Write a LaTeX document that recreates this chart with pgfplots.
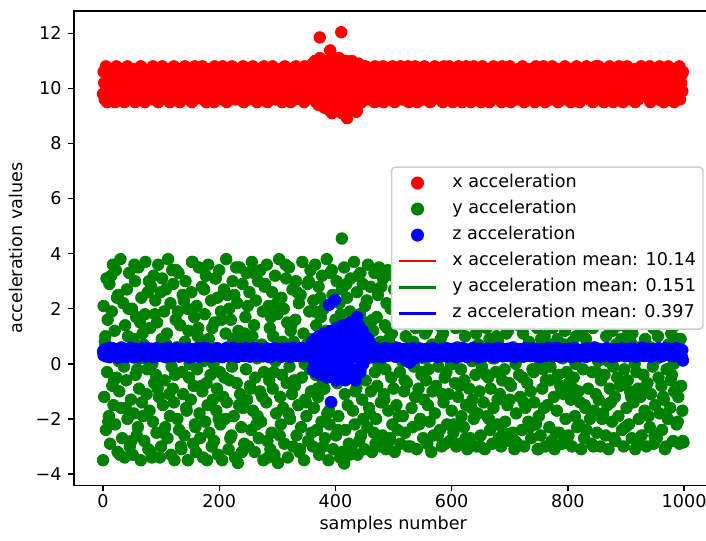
\documentclass[border=0pt]{standalone}
\usepackage{fontspec}
\setmainfont{DejaVu Sans}
\usepackage{pgfplots}
\pgfplotsset{compat=1.18}
\usepackage{pgfplotstable}
\definecolor{mplgreen}{RGB}{0,128,0}
\definecolor{legframe}{RGB}{204,204,204}
\pgfplotstableread{
x r g b
0 9.8 -3.5 0.45
1 10.6 2.1 0.31
2 10.2 -1.2 0.52
3 9.6 0.8 0.38
5 10.8 -2.4 0.27
6 10.1 3.1 0.49
7 9.5 -0.3 0.34
8 10.4 1.6 0.56
10 10.0 -1.9 0.41
11 9.7 2.9 0.24
12 10.7 -2.9 0.50
13 10.3 0.3 0.36
15 9.9 1.9 0.58
16 10.5 -0.8 0.29
17 9.6 3.6 0.44
18 10.2 -1.5 0.33
20 10.4 1.2 0.37
21 9.5 -2.2 0.53
22 10.1 3.4 0.28
23 10.8 -0.5 0.47
25 9.8 -3.2 0.40
26 10.3 2.5 0.22
27 10.6 0.1 0.55
28 9.7 -1.0 0.35
30 9.9 3.8 0.48
31 10.7 -1.6 0.30
32 10.2 0.6 0.42
33 9.6 -2.7 0.57
35 10.5 2.2 0.26
36 10.0 -0.1 0.39
37 9.5 -3.4 0.51
38 10.4 1.4 0.33
40 10.3 -0.6 0.44
41 9.8 2.7 0.25
42 10.8 -2.0 0.54
43 10.1 1.0 0.36
45 9.7 3.3 0.47
46 10.6 -3.0 0.31
47 10.2 0.4 0.58
48 9.9 -1.3 0.40
50 10.5 2.0 0.29
51 9.6 -3.3 0.50
52 10.0 0.9 0.38
53 10.7 -1.8 0.23
55 9.5 3.0 0.45
56 10.3 -0.4 0.55
57 9.8 1.7 0.34
58 10.6 -2.6 0.42
60 9.7 -2.3 0.52
61 10.4 3.5 0.37
62 10.1 -0.9 0.27
63 9.9 0.2 0.49
65 10.8 -3.5 0.32
66 9.6 2.4 0.41
67 10.2 -1.4 0.56
68 10.5 1.1 0.30
70 10.2 0.7 0.35
71 10.7 -2.8 0.46
72 9.5 1.8 0.53
73 10.0 3.7 0.26
75 10.4 -1.1 0.40
76 9.8 -0.2 0.57
77 10.6 2.6 0.31
78 9.9 -3.1 0.44
80 10.6 -1.7 0.39
81 9.9 1.3 0.28
82 10.3 -3.2 0.48
83 9.7 2.8 0.55
85 10.1 0.0 0.34
86 10.8 -2.1 0.43
87 9.6 3.2 0.24
88 10.4 -0.7 0.51
90 9.8 2.3 0.47
91 10.5 -0.4 0.33
92 10.0 -2.5 0.57
93 10.7 1.5 0.38
95 9.5 3.6 0.29
96 10.2 -1.2 0.50
97 10.4 0.5 0.42
98 9.7 -3.4 0.36
100 10.1 -3.0 0.54
101 9.6 0.9 0.41
102 10.8 3.1 0.30
103 10.3 -1.5 0.46
105 9.9 1.9 0.37
106 10.6 -0.6 0.25
107 9.8 -2.3 0.52
108 10.0 2.7 0.44
110 10.4 1.1 0.32
111 9.7 -2.7 0.49
112 10.2 3.8 0.40
113 10.7 0.2 0.58
115 9.5 -1.9 0.27
116 10.0 2.2 0.45
117 10.5 -3.3 0.35
118 9.9 -0.1 0.53
120 9.6 -0.9 0.43
121 10.3 2.9 0.36
122 10.8 -1.4 0.51
123 9.8 -3.5 0.28
125 10.1 1.6 0.47
126 10.6 3.4 0.39
127 9.7 0.6 0.56
128 10.4 -2.0 0.31
130 10.7 3.3 0.50
131 10.0 -2.4 0.26
132 9.5 0.3 0.44
133 10.2 1.4 0.37
135 10.5 -3.1 0.55
136 9.9 -0.3 0.33
137 10.3 2.5 0.42
138 9.6 -1.1 0.48
140 10.1 -2.6 0.38
141 10.8 0.8 0.53
142 9.8 3.0 0.29
143 10.4 -1.6 0.46
145 9.7 2.0 0.34
146 10.6 -3.5 0.57
147 10.0 1.2 0.41
148 10.3 -0.5 0.23
150 9.9 0.4 0.45
151 10.2 -1.3 0.31
152 10.7 2.6 0.50
153 9.5 3.7 0.39
155 10.4 -2.9 0.27
156 10.1 -0.8 0.54
157 9.6 1.7 0.36
158 10.8 -2.2 0.48
160 10.5 -3.2 0.33
161 9.7 2.1 0.47
162 10.0 -0.2 0.56
163 10.6 1.0 0.40
165 10.3 3.5 0.25
166 9.8 -1.8 0.43
167 10.7 -2.7 0.52
168 10.1 0.7 0.37
170 10.2 2.8 0.49
171 10.8 -1.0 0.35
172 9.6 -3.4 0.42
173 10.0 0.1 0.58
175 9.9 1.8 0.30
176 10.5 -2.1 0.46
177 10.3 3.2 0.38
178 9.5 -0.7 0.28
180 9.8 -1.5 0.41
181 10.4 3.6 0.55
182 10.1 0.9 0.32
183 10.7 -2.5 0.44
185 9.6 -0.4 0.51
186 10.2 2.3 0.26
187 9.9 -3.0 0.48
188 10.6 1.3 0.36
190 10.3 0.0 0.37
191 9.5 -2.8 0.43
192 10.8 1.5 0.28
193 10.0 3.1 0.53
195 10.5 -1.7 0.40
196 9.7 -0.9 0.57
197 10.4 2.4 0.34
198 10.2 -3.3 0.46
200 10.6 3.4 0.52
201 10.1 -0.3 0.30
202 9.9 -2.2 0.45
203 10.3 1.9 0.39
205 9.6 -3.5 0.24
206 10.8 0.5 0.48
207 10.0 -1.2 0.35
208 9.8 2.7 0.42
210 10.0 -2.0 0.44
211 10.7 1.1 0.56
212 10.4 3.8 0.38
213 9.5 -1.4 0.31
215 10.2 0.6 0.50
216 9.9 -3.1 0.27
217 10.6 2.0 0.41
218 10.1 -0.6 0.54
220 9.7 1.6 0.33
221 10.3 -2.6 0.47
222 10.8 -0.1 0.29
223 10.0 3.0 0.58
225 9.8 -1.9 0.40
226 10.5 2.5 0.36
227 10.2 -3.4 0.51
228 9.6 0.3 0.43
230 10.4 -0.7 0.49
231 9.9 2.2 0.25
232 10.1 -3.6 0.42
233 10.6 1.2 0.37
235 10.7 3.5 0.55
236 9.6 -1.1 0.32
237 10.3 0.8 0.46
238 10.0 -2.3 0.39
240 10.2 2.9 0.36
241 10.8 -1.6 0.53
242 9.5 0.4 0.28
243 9.9 -2.9 0.45
245 10.4 1.7 0.41
246 10.1 -0.2 0.57
247 9.8 3.3 0.30
248 10.6 -1.3 0.48
250 9.6 -3.0 0.44
251 10.5 0.9 0.34
252 10.2 2.6 0.51
253 10.7 -0.8 0.26
255 10.0 -2.4 0.39
256 9.7 3.7 0.47
257 10.3 1.0 0.55
258 10.8 -1.7 0.32
260 10.1 1.4 0.40
261 9.8 -3.2 0.58
262 10.6 -0.5 0.35
263 10.3 2.3 0.43
265 9.5 0.2 0.29
266 10.4 -1.9 0.52
267 10.0 3.0 0.37
268 9.9 -2.7 0.46
270 10.7 -1.0 0.31
271 10.2 3.4 0.48
272 9.7 -2.1 0.42
273 10.0 0.7 0.54
275 10.5 1.9 0.27
276 9.6 -3.5 0.38
277 10.8 -0.3 0.50
278 10.3 2.8 0.35
280 9.9 0.5 0.47
281 10.4 -1.4 0.33
282 10.1 3.6 0.56
283 9.5 -2.8 0.40
285 10.6 2.1 0.45
286 10.2 -0.6 0.24
287 9.8 1.3 0.41
288 10.7 -3.1 0.52
290 10.3 -2.5 0.36
291 10.0 2.6 0.50
292 10.8 -0.9 0.29
293 9.7 1.0 0.46
295 10.1 -3.3 0.57
296 10.5 3.2 0.34
297 9.6 0.1 0.43
298 10.4 -1.8 0.39
300 9.8 1.8 0.53
301 10.6 -3.6 0.37
302 10.3 0.6 0.44
303 10.0 3.8 0.30
305 9.9 -1.2 0.49
306 10.7 -2.2 0.41
307 10.2 2.4 0.26
308 9.5 -0.4 0.55
310 10.5 -1.6 0.42
311 9.7 2.0 0.28
312 10.1 -2.9 0.51
313 10.8 0.3 0.38
315 10.4 3.1 0.35
316 9.6 -0.7 0.56
317 10.0 1.5 0.45
318 10.3 -3.4 0.32
320 10.2 3.5 0.47
321 10.7 -0.1 0.40
322 9.9 -2.0 0.25
323 9.5 1.2 0.54
325 10.6 -1.1 0.33
326 10.1 2.7 0.48
327 10.4 -3.0 0.39
328 9.8 0.8 0.58
330 9.6 -0.8 0.36
331 10.3 1.6 0.52
332 10.8 3.0 0.43
333 10.0 -2.6 0.29
335 9.7 0.4 0.46
336 10.5 -1.5 0.37
337 10.2 2.2 0.55
338 10.6 -3.2 0.31
340 10.4 2.5 0.49
341 9.9 -2.3 0.34
342 10.1 -0.5 0.57
343 10.7 3.7 0.41
345 10.3 1.1 0.27
346 9.5 -3.5 0.44
347 10.8 0.0 0.38
348 10.0 -1.3 0.53
350 10.1 -1.9 0.40
351 10.6 0.7 0.46
352 9.7 2.9 0.33
353 10.3 -2.8 0.55
355 10.0 1.9 0.28
356 10.8 -0.2 0.50
357 9.8 3.4 0.42
358 10.5 -1.0 0.37
360 9.9 0.9 0.8
361 10.9 -3.0 -0.2
362 10.2 2.3 0.5
363 9.6 -1.6 0.1
365 11.0 3.6 0.9
366 10.4 -0.4 -0.3
367 9.5 1.4 0.6
368 10.7 -2.4 0.3
370 10.3 -1.2 0.4
371 9.4 2.8 1.0
372 10.8 -3.3 -0.1
373 11.1 0.2 0.7
375 10.0 1.7 -0.4
376 9.7 -2.1 0.2
377 10.5 3.2 0.9
378 11.0 -0.6 0.0
380 10.6 2.0 1.1
381 9.3 -0.9 -0.3
382 10.1 -2.7 0.6
383 10.9 1.0 0.2
385 9.8 3.8 0.8
386 11.0 -1.8 -0.5
387 10.3 0.5 0.4
388 9.6 -3.5 1.0
390 9.2 -2.2 0.1
391 10.7 3.3 0.9
392 10.0 0.0 -0.4
393 11.0 -1.4 1.2
395 9.5 2.5 0.5
396 10.4 -3.1 -0.1
397 9.9 1.2 0.7
398 10.8 -0.3 0.3
400 10.2 1.6 0.6
401 9.4 -2.6 -0.6
402 10.9 3.0 1.3
403 9.7 -0.7 0.2
405 10.5 -1.9 0.9
406 11.1 0.8 -0.2
407 9.3 2.2 0.4
408 10.1 -3.4 1.1
410 10.6 -0.2 -0.4
411 9.1 2.7 1.0
412 10.0 -3.2 0.3
413 10.8 1.3 1.4
415 9.6 3.5 0.0
416 10.3 -1.1 0.7
417 11.0 -2.4 -0.6
418 9.4 0.4 0.5
420 9.8 2.4 1.2
421 10.9 -1.5 -0.3
422 9.3 0.9 0.8
423 10.4 -2.9 0.1
425 10.1 1.9 1.5
426 9.5 3.1 -0.5
427 10.7 -0.5 0.4
428 11.0 -3.0 0.9
430 10.2 -1.7 0.6
431 9.4 0.3 1.3
432 10.8 3.7 -0.2
433 9.7 -2.2 1.0
435 10.5 1.1 -0.6
436 10.0 -0.9 1.6
437 9.2 2.6 0.3
438 10.6 -3.3 0.8
440 10.9 0.6 1.4
441 9.6 -2.8 0.2
442 10.3 1.8 0.9
443 10.0 3.3 -0.3
445 9.5 -0.1 1.1
446 10.7 -1.3 0.5
447 10.1 2.9 1.2
448 9.8 -2.0 0.0
450 10.4 -3.1 0.7
451 9.7 2.1 1.0
452 10.8 -0.6 0.2
453 10.2 1.5 0.8
455 9.6 -2.3 0.4
456 10.6 3.6 0.6
457 10.0 0.2 0.9
458 10.3 -1.6 0.3
460 9.9 2.8 0.55
461 10.5 -1.0 0.70
462 10.1 0.5 0.30
463 10.7 -3.2 0.60
465 9.8 1.2 0.45
466 10.4 -2.5 0.25
467 9.5 3.3 0.50
468 10.8 -0.3 0.40
470 10.2 -2.0 0.42
471 9.6 1.7 0.31
472 10.7 -0.8 0.56
473 10.0 2.5 0.38
475 10.4 3.5 0.49
476 9.9 -3.0 0.27
477 10.6 0.8 0.45
478 10.1 -1.4 0.35
480 9.7 0.3 0.50
481 10.3 -2.6 0.36
482 10.8 3.1 0.24
483 9.5 -1.1 0.44
485 10.1 1.4 0.57
486 10.6 -0.2 0.33
487 10.0 -3.1 0.40
488 10.4 2.2 0.47
490 10.5 3.4 0.29
491 9.8 -1.7 0.52
492 10.2 0.9 0.41
493 10.7 -2.8 0.35
495 9.6 2.0 0.46
496 10.3 -0.5 0.55
497 9.9 1.1 0.31
498 10.8 -2.2 0.43
500 10.0 -0.9 0.48
501 10.6 2.7 0.37
502 9.5 -3.2 0.53
503 10.2 0.6 0.26
505 10.4 -1.5 0.42
506 9.7 3.0 0.34
507 10.7 -2.4 0.58
508 10.1 1.6 0.39
510 10.3 1.9 0.45
511 9.9 -0.3 0.30
512 10.8 -2.9 0.40
513 10.0 3.3 0.51
515 9.6 0.1 0.25
516 10.5 -1.9 0.47
517 10.2 2.4 0.36
518 9.8 -1.0 0.54
520 10.6 -2.5 0.38
521 10.1 1.0 0.55
522 9.7 2.9 0.12
523 10.4 -0.7 0.43
525 10.8 -3.0 0.32
526 9.5 1.8 0.49
527 10.0 0.4 0.05
528 10.3 3.5 0.41
530 9.9 0.8 0.10
531 10.7 -1.6 0.46
532 10.2 2.2 0.34
533 9.6 -2.3 0.57
535 10.5 -0.1 0.40
536 10.0 3.1 0.28
537 10.8 -1.2 0.52
538 10.4 1.3 0.37
540 10.2 -3.1 0.44
541 9.5 2.6 0.31
542 10.6 0.5 0.49
543 10.1 -0.9 0.23
545 9.8 1.5 0.56
546 10.7 -2.0 0.39
547 10.3 3.2 0.35
548 9.7 -0.4 0.47
550 10.4 2.0 0.33
551 10.0 -2.7 0.50
552 9.6 -1.3 0.42
553 10.8 0.2 0.37
555 10.2 3.4 0.28
556 9.9 -0.6 0.54
557 10.5 1.2 0.45
558 10.1 -2.9 0.40
560 9.8 -0.2 0.52
561 10.6 1.7 0.36
562 10.3 -2.1 0.27
563 9.5 2.8 0.48
565 10.0 -3.2 0.41
566 10.7 0.7 0.33
567 10.4 -1.0 0.57
568 9.6 2.3 0.44
570 10.1 3.0 0.39
571 10.8 -1.8 0.46
572 9.7 0.3 0.54
573 10.3 -0.8 0.30
575 10.6 1.9 0.43
576 10.0 -2.6 0.25
577 9.9 -0.1 0.49
578 10.5 1.4 0.35
580 10.7 -2.4 0.47
581 9.6 0.9 0.32
582 10.2 2.5 0.41
583 10.0 -3.0 0.55
585 9.5 1.1 0.37
586 10.4 -1.4 0.51
587 10.8 3.3 0.28
588 10.1 -0.5 0.44
590 9.9 1.6 0.36
591 10.3 -0.3 0.57
592 10.6 -2.2 0.43
593 9.7 2.1 0.26
595 10.2 -1.1 0.48
596 10.8 0.4 0.40
597 9.8 -2.8 0.53
598 10.4 3.1 0.31
600 10.0 -1.7 0.42
601 10.5 2.7 0.29
602 9.5 0.0 0.50
603 10.7 -2.5 0.38
605 10.1 3.4 0.34
606 9.6 -0.7 0.56
607 10.3 1.3 0.45
608 10.6 -3.0 0.23
610 10.2 0.6 0.49
611 9.8 -1.2 0.40
612 10.8 2.3 0.35
613 10.4 -2.9 0.53
615 9.7 1.8 0.27
616 10.0 -0.2 0.44
617 10.6 -1.9 0.37
618 9.5 2.9 0.58
620 10.5 3.2 0.31
621 10.1 -2.3 0.47
622 9.6 -0.6 0.55
623 10.3 1.0 0.41
625 10.8 -1.5 0.36
626 9.9 2.0 0.25
627 10.2 -3.1 0.50
628 10.7 0.3 0.43
630 9.7 -0.9 0.45
631 10.4 1.5 0.33
632 10.0 -2.7 0.28
633 9.5 2.6 0.52
635 10.6 0.1 0.39
636 10.2 -1.3 0.57
637 9.8 3.4 0.42
638 10.8 -2.0 0.34
640 10.3 2.2 0.51
641 10.7 -0.4 0.38
642 9.9 1.1 0.44
643 10.1 -3.0 0.30
645 9.6 -1.8 0.48
646 10.5 0.7 0.24
647 10.0 2.8 0.36
648 10.4 -1.0 0.55
650 10.0 -2.6 0.40
651 9.5 3.0 0.53
652 10.6 -0.1 0.32
653 10.8 1.6 0.46
655 10.2 -1.4 0.27
656 9.7 2.4 0.43
657 10.4 -3.1 0.50
658 10.1 0.5 0.37
660 10.6 1.3 0.34
661 10.2 -1.9 0.47
662 9.8 2.9 0.56
663 10.4 -0.5 0.39
665 9.5 0.9 0.42
666 10.7 -2.4 0.29
667 10.0 -0.9 0.45
668 9.9 3.3 0.52
670 9.6 -2.9 0.49
671 10.3 0.2 0.35
672 10.8 -1.6 0.41
673 10.0 2.1 0.25
675 10.5 3.5 0.54
676 9.8 -0.3 0.38
677 10.2 1.0 0.31
678 10.7 -2.2 0.46
680 10.1 0.8 0.43
681 10.6 -2.7 0.57
682 9.7 1.9 0.30
683 10.4 -1.1 0.48
685 10.0 -3.0 0.36
686 9.5 2.5 0.51
687 10.8 -0.6 0.40
688 10.3 1.5 0.27
690 10.4 2.7 0.37
691 9.9 -0.2 0.44
692 10.2 -2.1 0.53
693 10.7 0.4 0.32
695 9.6 3.1 0.46
696 10.1 -1.5 0.28
697 10.5 1.2 0.55
698 9.8 -2.8 0.41
700 10.8 -1.3 0.50
701 10.0 1.7 0.33
702 9.5 -0.8 0.39
703 10.3 2.3 0.57
705 10.6 -2.5 0.42
706 9.7 0.6 0.36
707 10.1 3.4 0.47
708 10.4 -3.1 0.24
710 9.9 0.0 0.45
711 10.5 -1.8 0.52
712 10.2 2.8 0.29
713 9.6 -2.9 0.40
715 10.7 1.4 0.35
716 10.0 -0.4 0.54
717 9.8 2.0 0.38
718 10.6 -1.2 0.48
720 10.3 3.2 0.31
721 9.7 -2.4 0.46
722 10.8 -0.5 0.43
723 10.1 1.1 0.26
725 9.5 -3.0 0.50
726 10.4 2.4 0.41
727 10.2 -1.6 0.57
728 9.9 0.3 0.36
730 10.6 -0.7 0.53
731 10.0 1.9 0.39
732 9.6 -2.1 0.34
733 10.7 0.8 0.47
735 10.3 3.0 0.28
736 9.8 -1.0 0.44
737 10.5 -2.7 0.37
738 10.1 1.6 0.55
740 9.7 2.5 0.42
741 10.4 -0.3 0.30
742 10.2 -1.4 0.56
743 9.5 3.3 0.38
745 10.8 -2.2 0.45
746 10.0 0.5 0.33
747 10.6 1.3 0.49
748 9.9 -3.1 0.27
750 10.2 -1.9 0.36
751 10.7 2.1 0.51
752 9.8 0.1 0.41
753 10.3 -2.6 0.25
755 10.1 1.7 0.54
756 9.6 -0.9 0.43
757 10.4 2.9 0.32
758 10.8 -0.2 0.47
760 10.0 1.0 0.48
761 9.5 -3.0 0.35
762 10.6 -0.6 0.29
763 10.2 2.6 0.52
765 9.9 -1.5 0.39
766 10.7 3.4 0.46
767 9.7 0.7 0.57
768 10.3 -2.3 0.40
770 10.5 -0.1 0.33
771 10.1 1.5 0.44
772 9.6 -2.8 0.50
773 10.8 0.4 0.37
775 10.4 2.2 0.27
776 10.0 -1.2 0.55
777 9.8 -3.1 0.42
778 10.6 3.0 0.31
780 9.8 2.3 0.46
781 10.3 -1.7 0.58
782 10.7 0.9 0.38
783 9.5 -0.4 0.43
785 10.2 -2.5 0.34
786 10.5 1.8 0.26
787 10.1 -0.8 0.49
788 9.7 3.3 0.41
790 10.4 -2.9 0.39
791 10.0 0.2 0.47
792 9.6 2.7 0.32
793 10.6 -1.1 0.53
795 10.8 1.2 0.44
796 9.9 -2.0 0.36
797 10.3 0.6 0.28
798 10.1 -0.3 0.51
800 10.2 1.4 0.55
801 9.7 -2.6 0.30
802 10.5 -0.7 0.42
803 10.0 3.1 0.37
805 9.5 -1.3 0.49
806 10.7 2.0 0.24
807 10.4 -3.0 0.45
808 9.8 0.8 0.40
810 10.6 -0.5 0.34
811 10.1 2.4 0.48
812 9.9 -1.9 0.57
813 10.3 0.0 0.41
815 10.8 1.6 0.29
816 9.6 -2.3 0.52
817 10.0 3.4 0.38
818 10.5 -1.0 0.46
820 9.5 2.9 0.43
821 10.4 -1.4 0.36
822 10.2 0.5 0.50
823 9.8 -3.1 0.27
825 10.6 1.1 0.45
826 10.1 -0.2 0.40
827 10.7 2.2 0.33
828 10.0 -2.7 0.54
830 10.3 -1.6 0.49
831 9.9 0.9 0.25
832 10.8 -2.4 0.39
833 10.5 2.6 0.56
835 9.7 -0.9 0.35
836 10.2 3.2 0.44
837 9.6 0.3 0.51
838 10.4 -2.0 0.31
840 10.0 1.8 0.37
841 10.6 -2.9 0.52
842 10.1 -0.3 0.44
843 9.5 1.3 0.33
845 10.7 -1.7 0.58
846 9.8 0.6 0.41
847 10.3 2.7 0.28
848 10.8 -1.1 0.47
850 10.4 -2.5 0.45
851 9.7 3.3 0.30
852 10.2 0.1 0.55
853 10.8 -1.3 0.40
855 9.9 2.1 0.36
856 10.5 -3.0 0.49
857 10.0 -0.6 0.26
858 9.6 1.5 0.42
860 10.1 0.4 0.52
861 10.7 -1.8 0.38
862 9.5 2.5 0.43
863 10.3 -0.4 0.29
865 10.6 -2.6 0.47
866 10.0 1.0 0.34
867 9.8 3.0 0.57
868 10.4 -1.5 0.40
870 9.9 -3.1 0.35
871 10.2 1.7 0.46
872 10.8 -0.9 0.31
873 9.7 2.3 0.53
875 10.4 0.2 0.41
876 10.1 -2.1 0.25
877 10.6 1.2 0.48
878 9.5 -0.1 0.38
880 10.5 2.8 0.44
881 10.0 -1.2 0.54
882 9.6 -2.8 0.37
883 10.7 0.7 0.42
885 10.3 -0.5 0.28
886 9.8 3.4 0.50
887 10.2 -1.9 0.33
888 10.8 1.4 0.46
890 10.2 -0.8 0.39
891 10.6 2.0 0.31
892 9.9 0.9 0.49
893 10.0 -2.4 0.56
895 9.5 1.6 0.43
896 10.4 -3.0 0.36
897 10.7 -0.2 0.51
898 10.1 2.6 0.27
900 9.7 3.1 0.47
901 10.3 -1.6 0.40
902 10.8 0.3 0.34
903 10.2 -0.6 0.52
905 9.9 -2.2 0.29
906 10.5 1.9 0.45
907 10.0 -1.0 0.38
908 9.6 0.8 0.55
910 10.6 -2.7 0.32
911 10.1 1.1 0.48
912 9.8 2.4 0.56
913 10.4 -1.4 0.41
915 10.7 0.0 0.37
916 9.5 -3.1 0.50
917 10.3 3.3 0.26
918 10.0 -0.3 0.44
920 10.3 1.5 0.43
921 9.6 -0.9 0.35
922 10.5 -2.0 0.47
923 10.0 2.9 0.30
925 9.9 -1.2 0.53
926 10.8 0.5 0.39
927 10.2 -2.6 0.45
928 10.6 2.1 0.58
930 9.8 -0.4 0.50
931 10.4 3.0 0.28
932 10.1 -1.7 0.41
933 10.7 0.9 0.36
935 10.2 -3.0 0.46
936 9.7 1.7 0.55
937 10.0 -0.7 0.33
938 10.5 2.5 0.40
940 10.0 2.2 0.37
941 10.8 -2.3 0.52
942 9.5 0.6 0.44
943 10.3 -1.1 0.25
945 10.6 3.4 0.49
946 10.1 -0.1 0.42
947 9.9 1.3 0.31
948 10.4 -2.9 0.47
950 10.7 -1.5 0.54
951 10.2 0.2 0.39
952 9.7 2.7 0.33
953 10.0 -2.7 0.48
955 10.5 1.0 0.38
956 9.6 -0.5 0.57
957 10.3 2.0 0.43
958 10.8 -1.8 0.29
960 10.1 3.2 0.41
961 9.8 -0.8 0.46
962 10.6 -2.4 0.27
963 10.4 1.6 0.51
965 9.5 -1.3 0.35
966 10.7 0.4 0.44
967 10.2 -3.1 0.56
968 9.9 2.3 0.32
970 10.4 -0.2 0.49
971 10.0 1.8 0.34
972 9.6 -2.0 0.42
973 10.8 0.7 0.38
975 10.3 2.8 0.55
976 9.9 -1.6 0.30
977 10.5 -0.6 0.46
978 10.1 1.1 0.40
980 9.7 2.5 0.36
981 10.6 -2.8 0.52
982 10.2 0.0 0.45
983 9.5 -1.0 0.28
985 10.7 1.4 0.41
986 10.0 3.0 0.57
987 10.4 -2.2 0.33
988 9.8 0.9 0.47
990 10.3 -1.2 0.44
991 10.1 1.9 0.39
992 10.8 -2.9 0.53
993 9.6 0.5 0.31
995 10.2 -0.8 0.48
996 10.5 2.4 0.26
997 9.9 -1.7 0.50
998 10.6 -2.8 0.12
}\acc
\pgfplotstableread{
x g
4 1.0
9 -2.1
14 3.2
19 -0.6
24 2.4
29 -3.3
34 0.5
39 -1.6
44 2.0
49 -2.8
54 3.6
59 -0.2
64 1.5
69 -1.9
74 0.2
79 3.0
84 -3.4
89 1.8
94 -0.9
99 2.6
104 -2.5
109 0.7
114 -1.1
119 3.4
124 -0.4
129 1.9
134 -3.0
139 2.3
144 -1.7
149 0.0
154 3.7
159 -2.3
164 1.3
169 -0.8
174 2.7
179 -3.5
184 0.6
189 -1.3
194 3.1
199 -2.0
204 1.6
209 -0.5
214 2.5
219 -2.7
224 0.9
229 3.5
234 -1.5
239 -3.2
244 1.1
249 2.1
254 -0.9
259 3.3
264 -2.2
269 0.4
274 -1.2
279 2.9
284 -3.4
289 1.7
294 -0.3
299 2.2
304 -2.6
309 0.8
314 3.6
319 -1.8
324 1.4
329 -0.6
334 2.6
339 -3.1
344 0.2
349 -1.4
354 3.0
359 -2.5
364 1.9
369 -0.9
374 2.4
379 -3.0
384 1.2
389 -1.7
394 3.4
399 0.6
404 -2.4
409 1.8
414 -0.5
419 2.9
424 -3.3
429 1.0
434 -1.0
439 3.2
444 -2.6
449 0.4
454 2.3
459 -1.8
464 1.6
469 -2.9
474 0.0
479 2.8
484 -1.3
489 1.3
494 -2.7
499 3.2
504 0.3
509 -1.9
514 2.5
519 -0.6
524 1.6
529 -3.0
534 0.8
539 2.9
544 -2.2
549 -0.3
554 1.1
559 -1.5
564 3.3
569 -2.6
574 0.5
579 2.2
584 -1.1
589 -2.9
594 1.9
599 0.0
604 -2.2
609 3.0
614 -0.8
619 1.4
624 -2.7
629 2.5
634 -1.6
639 0.6
644 3.2
649 -3.0
654 1.8
659 -0.4
664 -2.0
669 2.6
674 0.2
679 -1.3
684 3.0
689 -2.5
694 1.1
699 -0.7
704 2.0
709 -2.8
714 0.5
719 3.1
724 -1.4
729 1.7
734 -2.3
739 -0.2
744 2.6
749 -3.1
754 0.9
759 -1.6
764 2.2
769 -0.6
774 1.3
779 -2.5
784 3.2
789 -1.0
794 0.7
799 -2.8
804 2.4
809 -0.9
814 1.0
819 -2.2
824 3.3
829 -1.5
834 0.4
839 2.0
844 -3.0
849 -0.3
854 1.6
859 -2.0
864 2.9
869 0.1
874 -1.4
879 -2.7
884 1.9
889 -0.6
894 3.0
899 -2.3
904 1.2
909 -1.2
914 2.6
919 -2.9
924 0.6
929 -0.9
934 3.4
939 -1.9
944 1.5
949 -2.6
954 0.2
959 2.3
964 -1.2
969 -3.0
974 1.6
979 -0.4
984 2.7
989 -2.1
994 0.9
999 -2.85
}\accg
\begin{document}
\begin{tikzpicture}
\begin{axis}[
  scale only axis,
  width=362.8pt, height=269.5pt,
  xmin=-49.95, xmax=1048.95,
  ymin=-4.41, ymax=12.81,
  axis line style={line width=0.8pt},
  tick align=outside,
  major tick length=3.5pt,
  every tick/.style={black, line width=0.8pt},
  xtick={0,200,400,600,800,1000},
  xticklabels={0,200,400,600,800,1000},
  ytick={-4,-2,0,2,4,6,8,10,12},
  yticklabels={−4,−2,0,2,4,6,8,10,12},
  ticklabel style={font=\fontsize{10}{12}\selectfont},
  xticklabel style={yshift=2pt},
  xtick pos=bottom, ytick pos=left,
  xlabel={samples number},
  ylabel={acceleration values},
  label style={font=\fontsize{10}{12}\selectfont},
  xlabel style={at={(axis description cs:0.5,-0.0939)}, anchor=base},
  ylabel style={at={(axis description cs:-0.0802,0.5)}, anchor=base},
  legend image code/.code={\draw[mark repeat=2,mark phase=2,#1] plot coordinates {(0pt,0pt)(10pt,0pt)(20pt,0pt)};},
  legend cell align=left,
  legend style={at={(1,0.5)}, anchor=east, xshift=-5pt,
    draw=legframe, line width=0.8pt, rounded corners=2pt, fill=white,
    font=\fontsize{10}{12}\selectfont,
    inner xsep=4pt, inner ysep=1.6pt,
    nodes={inner xsep=0pt, inner ysep=2pt, text height=8pt, text depth=2.8pt},
    column sep=9pt, row sep=0pt},
]
\addplot[only marks, mark=*, mark size=3.3pt, color=red] table[x=x, y=r]{\acc};
\addlegendentry{x acceleration}
\addplot[forget plot, only marks, mark=*, mark size=3.3pt, color=red] coordinates {(373,11.85)(410,12.04)(391,11.38)(394,9.1)(420,8.92)(436,9.15)};
\addplot[only marks, mark=*, mark size=3.3pt, color=mplgreen] table[x=x, y=g]{\acc};
\addlegendentry{y acceleration}
\addplot[forget plot, only marks, mark=*, mark size=3.3pt, color=mplgreen] table[x=x, y=g]{\accg};
\addplot[forget plot, only marks, mark=*, mark size=3.3pt, color=mplgreen] coordinates {(411,4.55)(415,-3.62)};
\addplot[only marks, mark=*, mark size=3.3pt, color=blue] table[x=x, y=b]{\acc};
\addlegendentry{z acceleration}
\addplot[forget plot, only marks, mark=*, mark size=3.3pt, color=blue] coordinates {(389,2.14)(399,2.32)(392,-1.39)(437,1.7)};
\addplot[red, line width=1.5pt, line cap=rect] coordinates {(0,10.14)(999,10.14)};
\addlegendentry{x acceleration mean: 10.14}
\addplot[mplgreen, line width=1.5pt, line cap=rect] coordinates {(0,0.151)(999,0.151)};
\addlegendentry{y acceleration mean: 0.151}
\addplot[blue, line width=1.5pt, line cap=rect] coordinates {(0,0.397)(999,0.397)};
\addlegendentry{z acceleration mean: 0.397}
\end{axis}
\pgfresetboundingbox
\path[use as bounding box] ([shift={(-42.05pt,-31.1pt)}]current axis.south west) rectangle ([shift={(359.1pt,275.75pt)}]current axis.south west);
\end{tikzpicture}
\end{document}
